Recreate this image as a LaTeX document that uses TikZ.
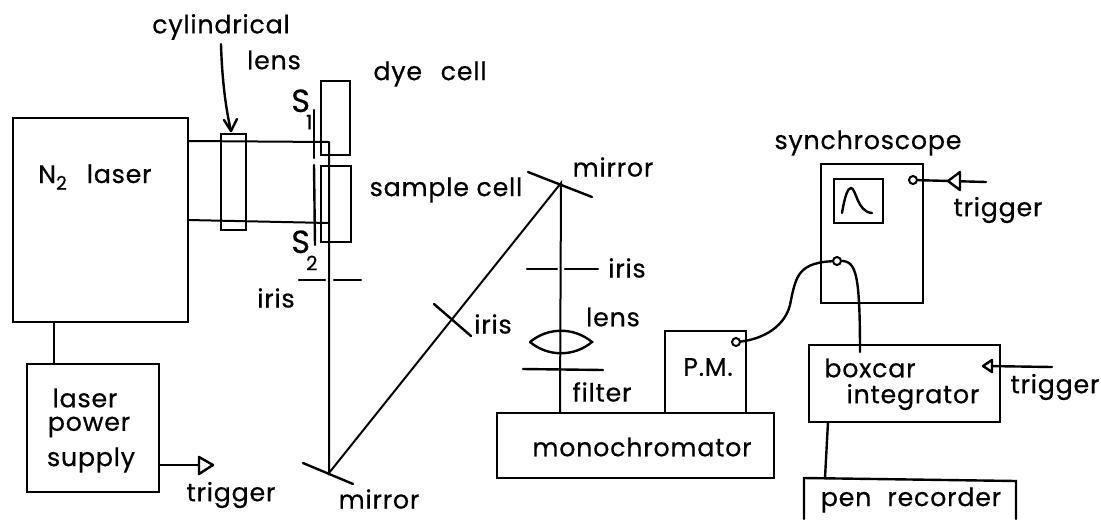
\documentclass[tikz,border=0pt]{standalone}
\usepackage{fontspec}
\setmainfont[LetterSpace=3,FakeBold=0.5]{Poppins}
\newcommand{\pxbox}[5]{%
  \pgfmathsetmacro{\bw}{(#4-#2)*0.75}\pgfmathsetmacro{\bh}{(#5-#3)*0.75}%
  \node[box,minimum width=\bw pt,minimum height=\bh pt] (#1) at ({(#2+#4)/2},{(#3+#5)/2}) {};}
\tikzset{
  box/.style={draw,rectangle,inner sep=0pt,line width=1.8pt},
  lab/.style={inner sep=0pt,font=\fontsize{19}{22}\selectfont},
  big/.style={inner sep=0pt,font=\fontsize{24}{26}\selectfont},
  port/.style={draw,circle,fill=white,inner sep=0pt,minimum size=6pt,line width=1.5pt},
  thick line/.style={line width=1.8pt,line cap=round},
  beam/.style={line width=1.5pt,line cap=round},
  head/.style={draw,line width=1.8pt,fill=white,line join=round}
}
\begin{document}
\begin{tikzpicture}[x=0.75pt,y=-0.75pt]
\useasboundingbox (0,0) rectangle (1101,519);
% boxes
\pxbox{laser}{13}{118}{188}{322}
\pxbox{psu}{27}{364}{159}{492}
\pxbox{lens}{221}{134}{246}{230}
\pxbox{dye}{321}{81}{350}{155}
\pxbox{sample}{321}{166}{351}{242}
\pxbox{mono}{497}{413}{774}{478}
\pxbox{pm}{665}{331}{746}{413}
\pxbox{scope}{821}{164}{923}{303}
\pxbox{screen}{834}{179}{883}{223}
\pxbox{boxcar}{809}{345}{1000}{422}
% pen recorder, open at the page edge
\coordinate (penBL) at (804,519);
\coordinate (penTL) at (804,478);
\coordinate (penTR) at (1016,481);
\coordinate (penBR) at (1016,519);
\draw[thick line] (penBL) -- (penTL) -- (penTR) -- (penBR);
% laser to supply
\draw[thick line] (54,322) -- (54,364);
\draw[thick line] (828,422) -- (825,478);
% coordinates of beam path
\coordinate (beamA) at (188,141);
\coordinate (beamB) at (329,142);
\coordinate (beamC) at (188,220);
\coordinate (beamD) at (329,223);
\coordinate (mirA) at (329,473);
\coordinate (mirB) at (561,183);
\coordinate (monoIn) at (560,413);
\draw[beam] (beamA) -- (beamB);
\draw[beam] (beamC) -- (beamD);
\draw[beam] (beamB) -- (mirA) -- (mirB) -- (monoIn);
% slits
\coordinate (s1a) at (314,110); \coordinate (s1b) at (314,158);
\coordinate (s2a) at (314,165); \coordinate (s2b) at (315,245);
\draw[thick line] (s1a) -- (s1b);
\draw[thick line] (s2a) -- (s2b);
% mirrors
\coordinate (mt1) at (528,172); \coordinate (mt2) at (592,197);
\coordinate (mb1) at (303,463); \coordinate (mb2) at (353,484);
\draw[thick line] (mt1) -- (mt2);
\draw[thick line] (mb1) -- (mb2);
% irises
\coordinate (i1a) at (299,280); \coordinate (i1b) at (325,280);
\coordinate (i1c) at (334,280); \coordinate (i1d) at (361,280);
\draw[thick line] (i1a) -- (i1b); \draw[thick line] (i1c) -- (i1d);
\coordinate (i2a) at (434,304); \coordinate (i2b) at (471,336);
\draw[thick line] (i2a) -- (i2b);
\coordinate (i3a) at (527,269); \coordinate (i3b) at (557,269);
\coordinate (i3c) at (565,269); \coordinate (i3d) at (598,269);
\draw[thick line] (i3a) -- (i3b); \draw[thick line] (i3c) -- (i3d);
% lens and filter
\coordinate (lensL) at (530,342); \coordinate (lensR) at (592,342);
\draw[thick line] (lensL) .. controls (548,327) and (574,327) .. (lensR)
  .. controls (574,357) and (548,357) .. (lensL);
\coordinate (fa) at (523,369); \coordinate (fb) at (603,370);
\draw[thick line] (fa) -- (fb);
% arrow to cylindrical lens
\coordinate (cylA) at (221,44); \coordinate (cylB) at (231,131);
\draw[thick line] (cylA) .. controls (222,80) and (226,110) .. (cylB);
\draw[thick line] (cylB) -- (224,120);
\draw[thick line] (cylB) -- (237,119);
% scope trace
\coordinate (trA) at (842,213); \coordinate (trB) at (872,213);
\draw[thick line] (trA) .. controls (845,195) and (848,188) .. (851,188)
  .. controls (856,188) and (857,212) .. (trB);
% cables and ports
\coordinate (p1) at (736,342);
\coordinate (p2) at (837,261);
\coordinate (p3) at (913,180);
\coordinate (bcTop) at (860,352);
\draw[thick line] (p1) .. controls (765,340) and (785,325) .. (790,305)
  .. controls (796,275) and (798,262) .. (p2);
\draw[thick line] (p2) .. controls (855,260) and (860,265) .. (bcTop);
\node[port] (pmPort) at (p1) {};
\node[port] (scopePort) at (p2) {};
\node[port] (trigPort) at (p3) {};
% trigger arrows
\coordinate (t1e) at (986,182);
\draw[thick line] (trigPort) -- (t1e);
\draw[head] (948,181) -- (960,172) -- (960,190) -- cycle;
\coordinate (t2e) at (1052,367);
\draw[thick line] (t2e) -- (985,366);
\draw[head] (983,366) -- (992,360) -- (992,372) -- cycle;
\coordinate (t3e) at (199,465);
\draw[thick line] (psu.east |- t3e) -- (t3e);
\draw[head] (213,465) -- (199,457) -- (199,474) -- cycle;
% labels
\node[lab] (tCyl) at (221,27) {cylindrical};
\node[lab] (tLens1) at (274,60) {lens};
\node[lab] (tDye) at (430,74) {dye\hspace{14pt}cell};
\node[lab] (tSample) at (446,190) {sample cell};
\node[lab] (tMirT) at (613,167) {mirror};
\node[lab] (tMirB) at (379,499) {mirror};
\node[lab] (tIris1) at (276,298) {iris};
\node[lab] (tIris2) at (493,324) {iris};
\node[lab] (tIris3) at (627,268) {iris};
\node[lab] (tLens2) at (613,317) {lens};
\node[lab] (tFilter) at (602,392) {filter};
\node[lab] (tMono) at (642,447) {monochromator};
\node[lab] (tPM) at (708,367) {P.M.};
\node[lab] (tScope) at (868,143) {synchroscope};
\node[lab] (tTr1) at (998,210) {trigger};
\node[lab] (tBox) at (870,368) {boxcar};
\node[lab] (tInt) at (913,397) {integrator};
\node[lab] (tTr2) at (1055,387) {trigger};
\node[lab] (tPen) at (911,500) {pen\hspace{12pt}recorder};
\node[lab] (tLas1) at (85,398) {laser};
\node[lab] (tLas2) at (89,427) {power};
\node[lab] (tLas3) at (91,460) {supply};
\node[lab] (tTr3) at (231,495) {trigger};
\node[lab,anchor=base west] (tN2) at (38,183) {N\raisebox{-5pt}{\fontsize{14}{14}\selectfont 2}\hspace{15pt}laser};
\node[big,anchor=base west] (tS1) at (291,112) {S\hspace{-3pt}\raisebox{-13pt}{\fontsize{15}{18}\selectfont 1}};
\node[big,anchor=base west] (tS2) at (291,253) {S\hspace{-3pt}\raisebox{-13pt}{\fontsize{15}{18}\selectfont 2}};
\end{tikzpicture}
\end{document}
